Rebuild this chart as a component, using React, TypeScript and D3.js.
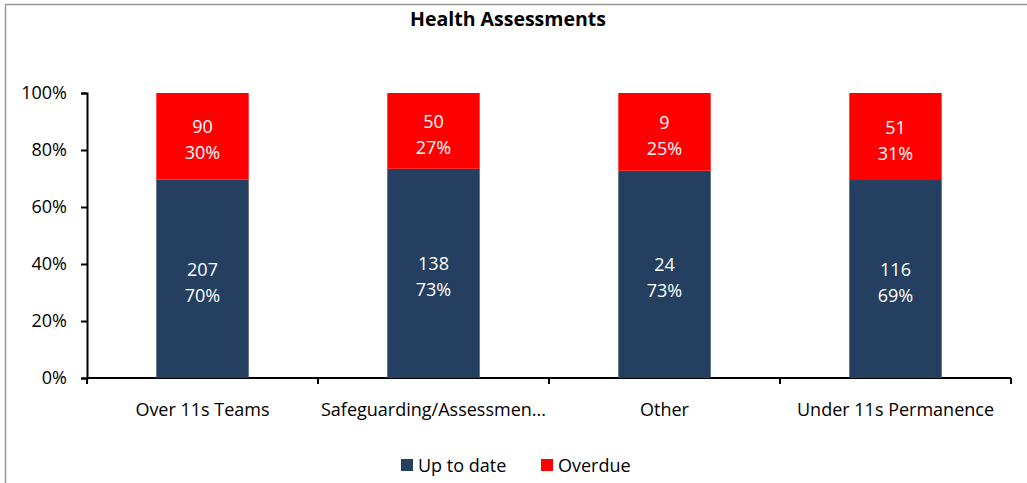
import React, { useEffect, useRef } from "react";
import * as d3 from "d3";

const categories = ["Over 11s Teams", "Safeguarding/Assessmen...", "Other", "Under 11s Permanence"];
const upToDate = [207, 138, 24, 116];
const overdue = [90, 50, 9, 51];
const upToDatePct = ["70%", "73%", "73%", "69%"];
const overduePct = ["30%", "27%", "25%", "31%"];
const yTicks = [0, 0.2, 0.4, 0.6, 0.8, 1];

const FONT = "'Open Sans', sans-serif";
const FS = "18px";

const App = () => {
  const ref = useRef<SVGSVGElement>(null);

  useEffect(() => {
    const svg = d3.select(ref.current);
    svg.selectAll("*").remove();

    const width = 1027;
    const height = 483;
    const margin = { top: 93, right: 16, bottom: 105, left: 87 };

    // frame
    svg
      .append("rect")
      .attr("x", 5.5)
      .attr("y", 4.5)
      .attr("width", 1040)
      .attr("height", 500)
      .attr("fill", "#fff")
      .attr("stroke", "#999")
      .attr("stroke-width", 1.5);

    const rows = categories.map((c, i) => {
      const total = upToDate[i] + overdue[i];
      return { cat: c, a: upToDate[i] / total, b: overdue[i] / total, i };
    });

    const x = d3
      .scaleBand()
      .domain(categories)
      .range([margin.left, width - margin.right])
      .paddingInner(0.6)
      .paddingOuter(0.3);

    const y = d3
      .scaleLinear()
      .domain([0, 1])
      .range([height - margin.bottom, margin.top]);

    // title
    svg
      .append("text")
      .attr("x", 508)
      .attr("y", 26)
      .attr("text-anchor", "middle")
      .style("font-family", FONT)
      .style("font-weight", "bold")
      .style("font-size", "19.5px")
      .text("Health Assessments");

    // y axis
    const yAxis = svg
      .append("g")
      .attr("transform", `translate(${margin.left},0)`)
      .call(
        d3
          .axisLeft(y)
          .tickValues(yTicks)
          .tickFormat(d3.format(".0%"))
          .tickSize(6)
          .tickPadding(14)
      );
    yAxis.select(".domain").attr("stroke", "#000").attr("stroke-width", 2);
    yAxis.selectAll(".tick line").attr("stroke", "#000").attr("stroke-width", 2);
    yAxis
      .selectAll("text")
      .attr("fill", "#000")
      .style("font-family", FONT)
      .style("font-size", FS);

    // x axis with ticks between categories
    const bounds = d3
      .range(categories.length + 1)
      .map((k) => margin.left + (k * (width - margin.right - margin.left)) / categories.length);
    const xg = svg.append("g");
    xg.append("line")
      .attr("x1", margin.left)
      .attr("x2", bounds[bounds.length - 1])
      .attr("y1", y(0))
      .attr("y2", y(0))
      .attr("stroke", "#000")
      .attr("stroke-width", 2);
    xg.selectAll(".tk")
      .data(bounds)
      .enter()
      .append("line")
      .attr("x1", (d) => d)
      .attr("x2", (d) => d)
      .attr("y1", y(0))
      .attr("y2", y(0) + 6)
      .attr("stroke", "#000")
      .attr("stroke-width", 2);
    xg.selectAll(".lbl")
      .data(categories)
      .enter()
      .append("text")
      .attr("x", (d) => (x(d) ?? 0) + x.bandwidth() / 2)
      .attr("y", y(0) + 38)
      .attr("text-anchor", "middle")
      .style("font-family", FONT)
      .style("font-size", FS)
      .text((d) => d);

    // bars
    const g = svg.append("g");
    g.selectAll(".up")
      .data(rows)
      .enter()
      .append("rect")
      .attr("x", (d) => x(d.cat) ?? 0)
      .attr("y", (d) => y(d.a))
      .attr("width", x.bandwidth())
      .attr("height", (d) => y(0) - y(d.a))
      .attr("fill", "#243f60");
    g.selectAll(".od")
      .data(rows)
      .enter()
      .append("rect")
      .attr("x", (d) => x(d.cat) ?? 0)
      .attr("y", () => y(1))
      .attr("width", x.bandwidth())
      .attr("height", (d) => y(d.a) - y(1))
      .attr("fill", "#ff0000");

    const addLabels = (mid: (d: any) => number, l1: (d: any) => string, l2: (d: any) => string) => {
      const t = g
        .selectAll(null)
        .data(rows)
        .enter()
        .append("text")
        .attr("text-anchor", "middle")
        .attr("fill", "#fff")
        .style("font-family", FONT)
        .style("font-size", FS);
      t.append("tspan")
        .attr("x", (d) => (x(d.cat) ?? 0) + x.bandwidth() / 2)
        .attr("y", (d) => mid(d) - 3)
        .text(l1);
      t.append("tspan")
        .attr("x", (d) => (x(d.cat) ?? 0) + x.bandwidth() / 2)
        .attr("y", (d) => mid(d) + 23)
        .text(l2);
    };
    addLabels((d) => (y(1) + y(d.a)) / 2, (d) => String(overdue[d.i]), (d) => overduePct[d.i]);
    addLabels((d) => (y(0) + y(d.a)) / 2, (d) => String(upToDate[d.i]), (d) => upToDatePct[d.i]);

    // legend
    const legend = [
      { name: "Up to date", color: "#243f60", x: 401 },
      { name: "Overdue", color: "#ff0000", x: 541 },
    ];
    const lg = svg.append("g");
    lg.selectAll("rect")
      .data(legend)
      .enter()
      .append("rect")
      .attr("x", (d) => d.x)
      .attr("y", 459)
      .attr("width", 12)
      .attr("height", 12)
      .attr("fill", (d) => d.color);
    lg.selectAll("text")
      .data(legend)
      .enter()
      .append("text")
      .attr("x", (d) => d.x + 17)
      .attr("y", 472)
      .style("font-family", FONT)
      .style("font-size", FS)
      .text((d) => d.name);
  }, []);

  return (
    <svg
      ref={ref}
      width={1027}
      height={483}
      style={{ position: "absolute", left: 0, top: 0 }}
    ></svg>
  );
};

export default App;
